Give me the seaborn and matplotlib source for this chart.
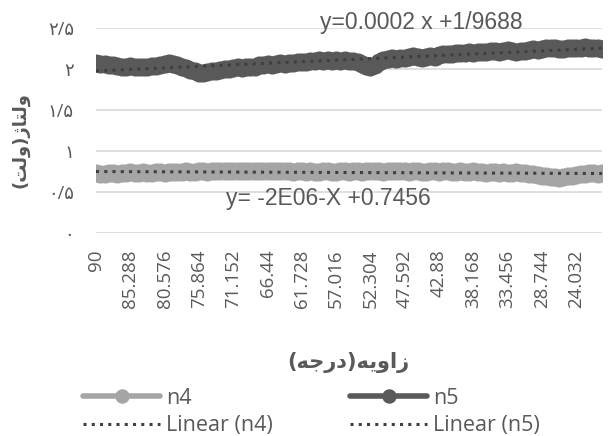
import numpy as np
import seaborn as sns
from matplotlib import pyplot as plt

# voltage readings (n4, n5) per angle step
n5 = [2.07, 2.06, 2.06, 2.05, 2.05, 2.04,
      2.03, 2.03, 2.04, 2.03, 2.02, 2.03, 2.03, 2.04, 2.04, 2.05, 2.06,
      2.07, 2.06, 2.05, 2.03,
      2.01, 1.99, 1.97, 1.95, 1.95, 1.96, 1.97,
      1.98, 1.99, 2.00, 2.00, 2.01, 2.02, 2.01, 2.02, 2.03, 2.03,
      2.05, 2.05, 2.06, 2.05, 2.06, 2.07, 2.06, 2.07, 2.07, 2.08, 2.08, 2.09,
      2.10, 2.10, 2.11, 2.10, 2.11, 2.10, 2.11, 2.10, 2.11, 2.10, 2.10, 2.09,
      2.06, 2.04, 2.03, 2.05,
      2.09, 2.11, 2.12, 2.13, 2.12, 2.13, 2.14,
      2.15, 2.16, 2.15, 2.14, 2.15, 2.16, 2.15, 2.17, 2.18,
      2.18, 2.18, 2.19, 2.19, 2.20, 2.21, 2.20, 2.21, 2.21,
      2.21, 2.22, 2.22, 2.21, 2.22, 2.23, 2.22, 2.21, 2.22, 2.22, 2.23, 2.24, 2.23, 2.24,
      2.25, 2.26, 2.25, 2.24, 2.24, 2.25, 2.26, 2.25, 2.26, 2.27, 2.26, 2.25, 2.25, 2.24]
n4 = [0.73, 0.72, 0.72, 0.73, 0.73, 0.72, 0.73, 0.73, 0.74, 0.73, 0.73, 0.74, 0.73, 0.73, 0.74, 0.74, 0.73, 0.74, 0.74, 0.74,
      0.74, 0.75, 0.74, 0.74, 0.75, 0.75, 0.74, 0.75, 0.75, 0.75, 0.76, 0.75, 0.75, 0.76, 0.75, 0.75, 0.76, 0.76, 0.75, 0.75,
      0.76, 0.75, 0.75, 0.76, 0.75, 0.75, 0.74, 0.75, 0.75, 0.74, 0.75, 0.74, 0.74, 0.75, 0.75, 0.74, 0.74, 0.75, 0.75, 0.74,
      0.75, 0.75, 0.74, 0.75, 0.76, 0.75, 0.75, 0.74, 0.75, 0.75, 0.76, 0.75, 0.75, 0.74, 0.75, 0.75, 0.74, 0.74, 0.75, 0.75,
      0.74, 0.75, 0.75, 0.74, 0.74, 0.75, 0.74, 0.74, 0.75, 0.74, 0.74, 0.73, 0.74, 0.74, 0.73, 0.74, 0.73, 0.73, 0.74, 0.73,
      0.73, 0.72, 0.72, 0.71, 0.70, 0.69, 0.68, 0.68, 0.67, 0.68, 0.69, 0.70, 0.71, 0.72, 0.72, 0.73, 0.73, 0.72, 0.73]

angleStep = 0.589
tickLabels = ['90', '85.288', '80.576', '75.864', '71.152', '66.44', '61.728', '57.016',
              '52.304', '47.592', '42.88', '38.168', '33.456', '28.744', '24.032']
yTicks = [0, 0.5, 1, 1.5, 2, 2.5]
yTickLabels = ['\u06f0', '\u06f0/\u06f5', '\u06f1', '\u06f1/\u06f5', '\u06f2', '\u06f2/\u06f5']
eqN5 = 'y=0.0002 x +1/9688'
eqN4 = 'y= -2E06-X +0.7456'
# Persian labels, shaped glyphs in visual order
yLabel = '(\ufe96\ufedf\ufeed)\ufb8a\ufe8e\ufe98\ufedf\ufeed'        # ولتاژ(ولت)
xLabel = '(\ufeea\ufe9f\ufead\ufea9)\ufeea\ufbfe\ufeed\ufe8d\ufeaf'  # زاویه(درجه)

sns.set_style('white')
plt.rcParams['font.family'] = ['Open Sans', 'DejaVu Sans']

angles = np.round(90 - angleStep * np.arange(len(n5)), 3)
idx = np.arange(len(n5))

fig = plt.figure(figsize=(6.09, 4.36), dpi=100)
ax = fig.add_axes([96/609, 1-233/436, 506/609, 205/436])

light = '#a5a5a5'
dark = '#595959'
trendStyle = dict(color='#3f3f3f', linestyle=(0, (1, 1.7)), linewidth=2.2)
sns.lineplot(x=idx, y=n4, ax=ax, color=light, marker='o', markersize=13, markeredgewidth=0,
             linewidth=4, label='n4')
fit4 = np.polyfit(idx, n4, 1)
ax.plot(idx, np.polyval(fit4, idx), label='Linear (n4)', **trendStyle)
sns.lineplot(x=idx, y=n5, ax=ax, color=dark, marker='o', markersize=13, markeredgewidth=0,
             linewidth=4, label='n5')
fit5 = np.polyfit(idx, n5, 1)
ax.plot(idx, np.polyval(fit5, idx), label='Linear (n5)', **trendStyle)

ax.set_xlim(0, len(n5) - 1)
ax.set_ylim(0, 2.5)
ax.set_xticks(idx[::8][:len(tickLabels)])
ax.set_xticklabels(tickLabels, rotation=90, fontsize=13.5, color='#595959')
ax.set_yticks(yTicks)
ax.set_yticklabels(yTickLabels, fontsize=13, color='#595959')
ax.tick_params(axis='x', length=0, pad=12)
ax.tick_params(axis='y', length=0, pad=16)
ax.yaxis.grid(True, color='#d9d9d9', linewidth=1.2)
ax.xaxis.grid(False)
ax.set_axisbelow(True)
sns.despine(ax=ax, left=True, bottom=True)
ax.set_xlabel('')
ax.set_ylabel('')

fig.text(20/609, 1-140/436, yLabel, rotation=90, ha='center', va='center',
         fontsize=13, fontweight='bold', color='#595959', family='DejaVu Sans')
fig.text(348/609, 1-362/436, xLabel, ha='center', va='center',
         fontsize=15, fontweight='bold', color='#595959', family='DejaVu Sans')
fig.text(421/609, 1-22/436, eqN5, ha='center', va='center', fontsize=16.5,
         color='#595959', family='Liberation Sans')
fig.text(328/609, 1-198/436, eqN4, ha='center', va='center', fontsize=16.5,
         color='#595959', family='Liberation Sans')

handles, labels = ax.get_legend_handles_labels()
order = [labels.index(l) for l in ['n4', 'Linear (n4)', 'n5', 'Linear (n5)']]
ax.legend([handles[i] for i in order], [labels[i] for i in order], ncol=2, frameon=False,
          loc='upper left', bbox_to_anchor=(72/609, 1-377/436), bbox_transform=fig.transFigure,
          fontsize=15.5, handlelength=3.6, handletextpad=0.25, columnspacing=3.6,
          labelspacing=0.3, labelcolor='#595959', borderpad=0, markerscale=0.8)

plt.savefig('out.png', dpi=100)
